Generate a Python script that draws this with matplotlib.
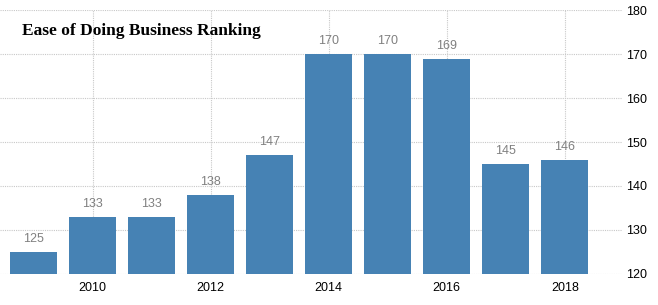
import matplotlib.pyplot as plt

years = [2009, 2010, 2011, 2012, 2013, 2014, 2015, 2016, 2017, 2018]
ranking = [125, 133, 133, 138, 147, 170, 170, 169, 145, 146]
xticks = [2010, 2012, 2014, 2016, 2018]
yticks = [120, 130, 140, 150, 160, 170, 180]

bar_color = "#4682b4"
grid_color = "#c8c8c8"

fig = plt.figure(figsize=(6.58, 3.05), dpi=100)
ax = fig.add_axes([0.0, 31.3 / 305, 622 / 658, (273.7 - 10.3) / 305])

ax.bar(years, [v - 120 for v in ranking], bottom=120, width=0.8,
       color=bar_color, zorder=2)

for x, v in zip(years, ranking):
    ax.text(x, v + 1.6, str(v), ha="center", va="bottom",
            fontsize=9, color="#808080", family="Liberation Sans")

ax.set_xlim(2008.43, 2018.97)
ax.set_ylim(120, 180)
ax.set_xticks(xticks)
ax.set_yticks(yticks)
ax.yaxis.tick_right()
ax.tick_params(axis="both", length=0, labelsize=9, labelcolor="black")
ax.tick_params(axis="y", pad=3)
ax.tick_params(axis="x", pad=6)
for lbl in ax.get_xticklabels() + ax.get_yticklabels():
    lbl.set_family("Liberation Sans")

for s in ax.spines.values():
    s.set_visible(False)

ax.grid(True, color=grid_color, linestyle=(0, (1, 1)), linewidth=0.8, zorder=0)
ax.set_axisbelow(True)

fig.text(22 / 658, 1 - 31 / 305, "Ease of Doing Business Ranking",
         ha="left", va="center", fontsize=12.5, fontweight="bold",
         family="Liberation Serif")

fig.savefig("out.png", dpi=100)
